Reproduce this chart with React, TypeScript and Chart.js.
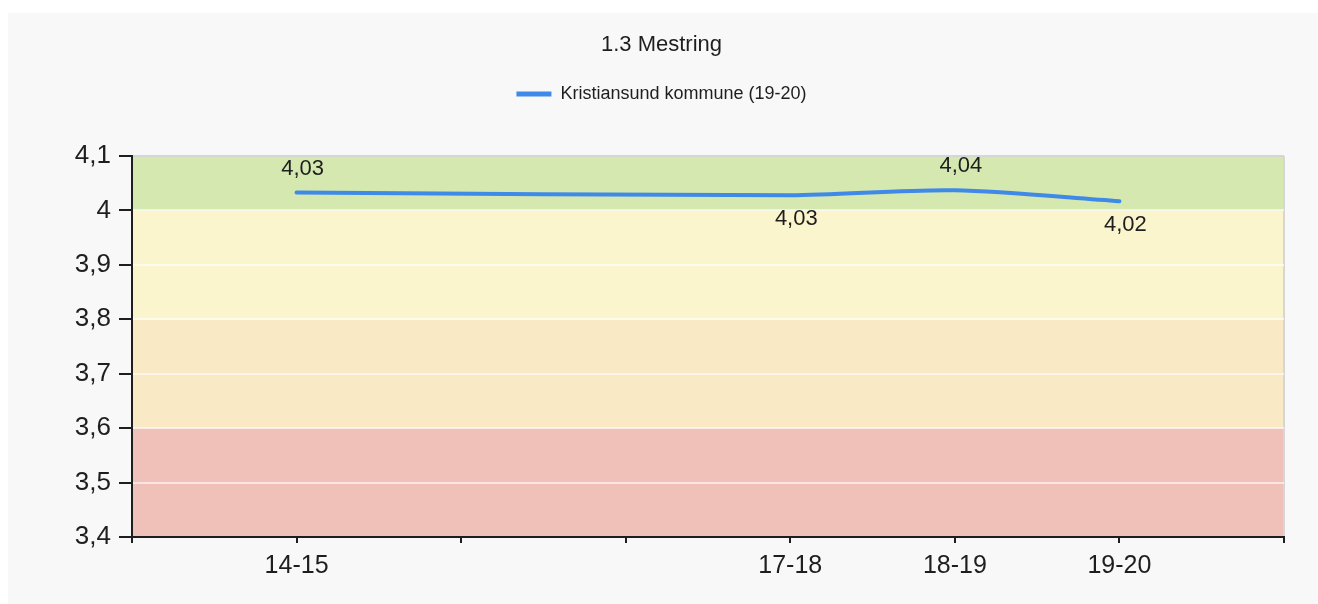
import React, { useEffect, useRef } from 'react';
import { Chart, registerables } from 'chart.js';

Chart.register(...registerables);

// ---- data ----
const titleText = '1.3 Mestring';
const seriesName = 'Kristiansund kommune (19-20)';
const categories = ['', '14-15', '15-16', '16-17', '17-18', '18-19', '19-20', ''];
const seriesValues: (number | null)[] = [null, 4.033, null, null, 4.028, 4.037, 4.017, null];
const labelAbove = [false, true, false, false, false, true, false, false];
const yTicks = [3.4, 3.5, 3.6, 3.7, 3.8, 3.9, 4.0, 4.1];
const bandEdges = [3.4, 3.6, 3.8, 4.0, 4.1];
const bandColors = ['#f0c1b8', '#fae9c5', '#faf5cd', '#d4e8b0'];

const FONT = '"Liberation Sans", Arial, sans-serif';
const TEXT = '#1e1e1e';
const LINE = '#3f89e8';

const fmt = (v: number, d: number) => {
  const s = d === 0 ? String(Math.round(v * 10) / 10) : v.toFixed(d);
  return s.replace('.', ',');
};

const bandsPlugin = {
  id: 'bands',
  beforeDraw(chart: any) {
    const { ctx, chartArea, scales } = chart;
    const y = scales.y;
    ctx.save();
    for (let i = 0; i < bandColors.length; i++) {
      const top = y.getPixelForValue(bandEdges[i + 1]);
      const bottom = y.getPixelForValue(bandEdges[i]);
      ctx.fillStyle = bandColors[i];
      ctx.fillRect(chartArea.left, top, chartArea.right - chartArea.left, bottom - top);
    }
    ctx.restore();
  },
};

const valueLabelsPlugin = {
  id: 'valueLabels',
  afterDatasetsDraw(chart: any) {
    const meta = chart.getDatasetMeta(0);
    const ctx = chart.ctx;
    ctx.save();
    ctx.font = `22px ${FONT}`;
    ctx.fillStyle = TEXT;
    ctx.textAlign = 'center';
    ctx.textBaseline = 'middle';
    meta.data.forEach((pt: any, i: number) => {
      const v = seriesValues[i];
      if (v == null) return;
      const dy = labelAbove[i] ? -24 : 24;
      ctx.fillText(fmt(v, 2), pt.x + 6, pt.y + dy);
    });
    ctx.restore();
  },
};

const legendGapPlugin = {
  id: 'legendGap',
  beforeLayout(chart: any) {
    const lg = chart.legend;
    if (lg && !lg.__gap) {
      const fit = lg.fit;
      lg.fit = function () {
        fit.call(this);
        this.height += 43;
      };
      lg.__gap = true;
    }
  },
};

export default function App() {
  const ref = useRef<HTMLCanvasElement>(null);

  useEffect(() => {
    if (!ref.current) return;
    const defaultLabels = (Chart as any).defaults.plugins.legend.labels.generateLabels;
    const chart = new Chart(ref.current, {
      type: 'line',
      data: {
        labels: categories,
        datasets: [
          {
            label: seriesName,
            data: seriesValues,
            borderColor: LINE,
            backgroundColor: LINE,
            borderWidth: 4,
            pointRadius: 0,
            pointHoverRadius: 0,
            tension: 0.3,
            spanGaps: true,
            fill: false,
            borderCapStyle: 'round',
            borderJoinStyle: 'round',
          },
        ],
      },
      options: {
        animation: false,
        responsive: true,
        maintainAspectRatio: false,
        layout: { padding: { left: 31, right: 34, top: 0, bottom: 0 } },
        plugins: {
          title: {
            display: true,
            text: titleText,
            color: TEXT,
            font: { family: FONT, size: 22, weight: 'normal' },
            padding: { top: 19, bottom: 16.6 },
          },
          legend: {
            display: true,
            position: 'top',
            labels: {
              color: TEXT,
              font: { family: FONT, size: 18 },
              boxWidth: 35,
              boxHeight: 5,
              padding: 10,
              generateLabels: (c: any) =>
                defaultLabels(c).map((l: any) => ({ ...l, lineWidth: 0, fillStyle: LINE })),
            },
          },
          tooltip: { enabled: false },
        },
        scales: {
          x: {
            type: 'category',
            offset: false,
            grid: {
              color: (c: any) => (c.index === categories.length - 1 ? '#d6d6d6' : 'rgba(0,0,0,0)'),
              tickColor: TEXT,
              tickLength: 6,
              lineWidth: 2,
            },
            border: { color: TEXT, width: 2 },
            ticks: {
              autoSkip: false,
              maxRotation: 0,
              minRotation: 0,
              color: TEXT,
              font: { family: FONT, size: 25 },
              padding: 8,
              callback: (_v: any, i: number) => (seriesValues[i] == null ? '' : categories[i]),
            },
            afterFit: (s: any) => {
              s.height = 67;
            },
          },
          y: {
            min: 3.4,
            max: 4.1,
            afterBuildTicks: (s: any) => {
              s.ticks = yTicks.map((v) => ({ value: v }));
            },
            grid: {
              color: (c: any) =>
                c.tick && c.tick.value >= 4.1 - 1e-9 ? '#d6d6d6' : 'rgba(255,255,255,0.6)',
              tickColor: TEXT,
              tickLength: 13,
              lineWidth: 2,
            },
            border: { color: TEXT, width: 2 },
            ticks: {
              color: TEXT,
              font: { family: FONT, size: 26 },
              padding: 8,
              callback: (v: any) => fmt(Number(v), 0),
            },
            afterFit: (s: any) => {
              s.width = 93;
            },
          },
        },
      },
      plugins: [bandsPlugin, valueLabelsPlugin, legendGapPlugin],
    } as any);
    return () => chart.destroy();
  }, []);

  return (
    <div
      style={{
        position: 'absolute',
        left: 8,
        top: 13,
        width: 1310,
        height: 591,
        background: '#f8f8f8',
      }}
    >
      <canvas ref={ref} />
    </div>
  );
}
